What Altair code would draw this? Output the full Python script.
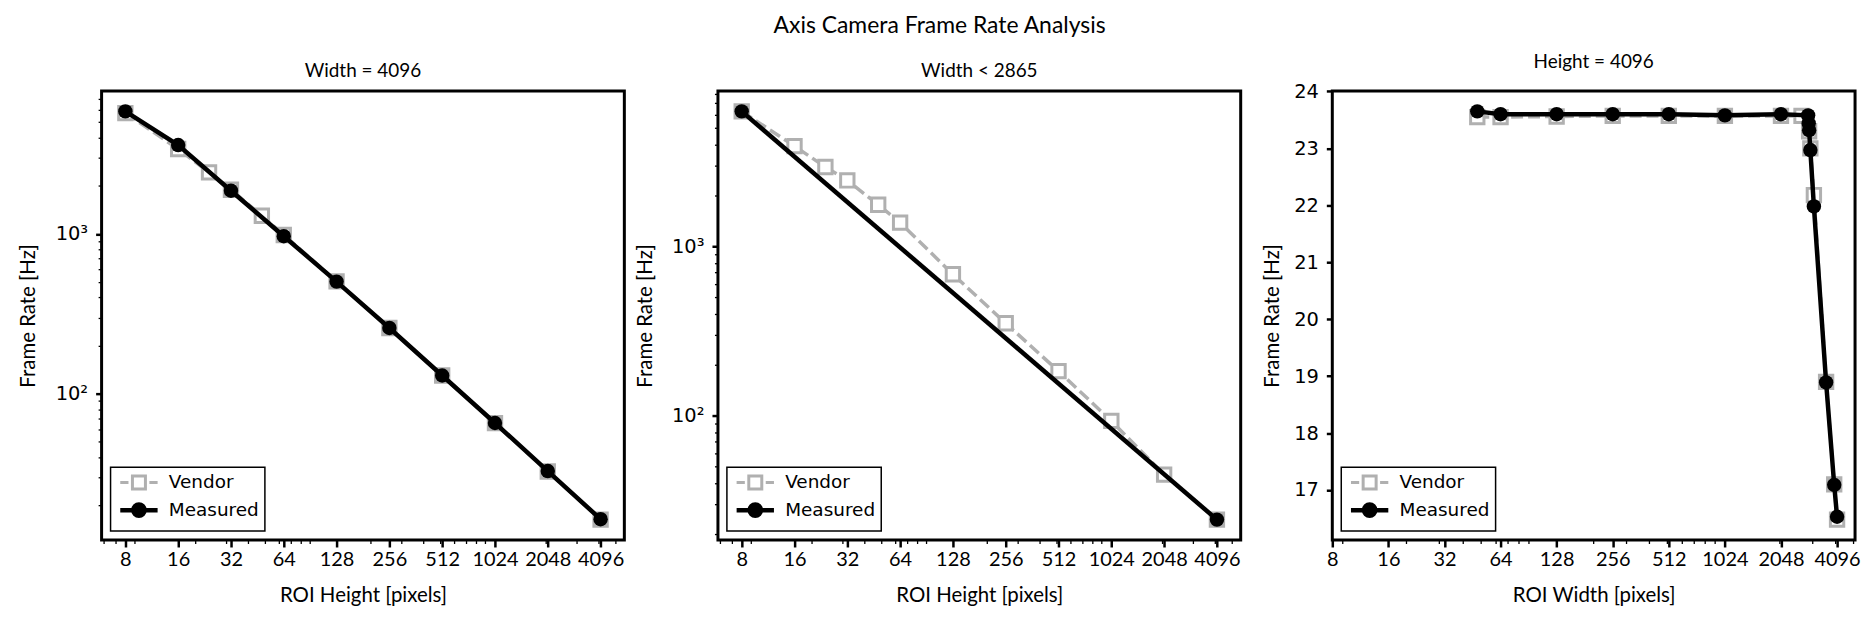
import math
import altair as alt
import pandas as pd

GREY = "#b0b0b0"

# ---------------- data ----------------
# Panel 1: Width = 4096, x = ROI height
p1_meas_x = [8, 16, 32, 64, 128, 256, 512, 1024, 2048, 4096]
p1_meas_y = [5850, 3600, 1865, 968, 503, 258, 130, 65.6, 32.8, 16.4]
p1_vend_x = [8, 16, 24, 32, 48, 64, 128, 256, 512, 1024, 2048, 4096]
p1_vend_y = [5700, 3400, 2430, 1890, 1300, 985, 505, 258, 130, 65.5, 32.6, 16.3]

# Panel 2: Width < 2865, x = ROI height
p2_meas_x = [8, 4096]
p2_meas_y = [6270, 24.3]
p2_vend_x = [8, 16, 24, 32, 48, 64, 128, 256, 512, 1024, 2048, 4096]
p2_vend_y = [6270, 3910, 2940, 2450, 1760, 1380, 684, 351, 183, 93, 44.8, 24.3]

# Panel 3: Height = 4096, x = ROI width
p3_meas_x = [48, 64, 128, 256, 512, 1024, 2048, 2865, 2885, 2900, 2944, 3076, 3577, 3954, 4096]
p3_meas_y = [23.65, 23.60, 23.60, 23.60, 23.60, 23.58, 23.60, 23.58, 23.44, 23.32, 22.97, 21.98, 18.89, 17.09, 16.53]
p3_vend_x = [48, 64, 128, 256, 512, 1024, 2048, 2640, 2900, 2944, 3076, 3577, 3954, 4096]
p3_vend_y = [23.55, 23.55, 23.56, 23.57, 23.57, 23.57, 23.57, 23.57, 23.30, 23.00, 22.18, 18.90, 17.10, 16.48]

titles = ["Width = 4096", "Width < 2865", "Height = 4096"]
x_titles = ["ROI Height [pixels]", "ROI Height [pixels]", "ROI Width [pixels]"]
series_names = ["Vendor", "Measured"]

X_MAJOR = [8, 16, 32, 64, 128, 256, 512, 1024, 2048, 4096]
X_MINOR = [6, 7, 9, 20, 30, 40, 50, 60, 70, 80, 90, 200, 300, 400, 500, 600, 700, 800, 900,
           2000, 3000, 4000, 5000]
Y_LOG_MAJOR = [100, 1000]
Y_LOG_MINOR = [20, 30, 40, 50, 60, 70, 80, 90, 200, 300, 400, 500, 600, 700, 800, 900,
               2000, 3000, 4000, 5000, 6000, 7000, 8000, 9000]
Y_LIN_TICKS = [17, 18, 19, 20, 21, 22, 23, 24]


def log_limits(vals, base=10.0, margin=0.05):
    lo, hi = math.log(min(vals), base), math.log(max(vals), base)
    d = (hi - lo) * margin
    return [base ** (lo - d), base ** (hi + d)]


def lin_limits(vals, margin=0.05):
    lo, hi = min(vals), max(vals)
    d = (hi - lo) * margin
    return [lo - d, hi + d]


VEND_PATH = "M-2.5,0H-1.4M1.4,0H2.5M-0.87,-0.87H0.87V0.87H-0.87Z"
MEAS_PATH = "M-2.5,0H2.5M0.75,0A0.75,0.75,0,1,1,-0.75,0A0.75,0.75,0,1,1,0.75,0Z"

W, H = 525, 451


def panel(title, mx, my, vx, vy, x_title, x_dom, y_dom, y_log, y_extent, y_tpad):
    dm = pd.DataFrame({"x": mx, "y": my, "series": "Measured"})
    dv = pd.DataFrame({"x": vx, "y": vy, "series": "Vendor"})

    xs = alt.Scale(type="log", domain=x_dom, nice=False)
    if y_log:
        ys = alt.Scale(type="log", domain=y_dom, nice=False)
        y_axis = alt.Axis(values=Y_LOG_MAJOR,
                          labelExpr="datum.value == 100 ? '10²' : datum.value == 1000 ? '10³' : ''",
                          title="Frame Rate [Hz]")
        y_minor_axis = alt.Axis(values=Y_LOG_MINOR, orient="left", labels=False, title=None,
                                tickSize=3.5, tickWidth=1.3, domain=False, grid=False)
    else:
        ys = alt.Scale(type="linear", domain=y_dom, nice=False, zero=False)
        y_axis = alt.Axis(values=Y_LIN_TICKS, format="d", title="Frame Rate [Hz]")
        y_minor_axis = None

    x_axis = alt.Axis(values=X_MAJOR, format="d", title=x_title, orient="bottom",
                      tickSize=7, tickWidth=2.5, labelFont="Lato", labelFontSize=20,
                      labelPadding=3, labelOverlap=False, labelFlush=False,
                      titleFont="Lato", titleFontSize=20.5, titleFontWeight="normal",
                      titlePadding=15.5)
    y_axis = alt.Axis(**{**y_axis.to_dict(),
                         "orient": "left", "tickSize": 6, "tickWidth": 2.5,
                         "labelFont": "DejaVu Sans", "labelFontSize": 19.5,
                         "labelPadding": 8, "minExtent": y_extent, "maxExtent": y_extent,
                         "titleFont": "Lato", "titleFontSize": 20.5,
                         "titleFontWeight": "normal", "titlePadding": y_tpad})

    X = alt.X("x:Q", scale=xs, axis=x_axis)
    Y = alt.Y("y:Q", scale=ys, axis=y_axis)

    vend_line = alt.Chart(dv).mark_line(stroke=GREY, strokeWidth=3.5, strokeDash=[12, 5]).encode(x=X, y=Y)
    vend_pts = alt.Chart(dv).mark_point(shape="square", size=180, filled=True, fill="white",
                                        stroke=GREY, strokeWidth=3, opacity=1).encode(x=X, y=Y)
    meas_line = alt.Chart(dm).mark_line(stroke="black", strokeWidth=4.5).encode(x=X, y=Y)
    meas_pts = alt.Chart(dm).mark_circle(size=210, fill="black", opacity=1).encode(x=X, y=Y)

    leg = alt.Legend(title=None, orient="bottom-left", offset=9, padding=6,
                     symbolOffset=12.5, labelOffset=20, rowPadding=0,
                     labelFont="DejaVu Sans", labelFontSize=18.5, labelColor="black",
                     symbolSize=225, strokeColor="black", fillColor="white",
                     cornerRadius=0)
    legend_layer = alt.Chart(dm).mark_point(filled=True, opacity=1).encode(
        shape=alt.Shape("series:N", scale=alt.Scale(domain=series_names, range=[VEND_PATH, MEAS_PATH]), legend=leg),
        fill=alt.Fill("series:N", scale=alt.Scale(domain=series_names, range=["white", "black"]), legend=leg),
        stroke=alt.Stroke("series:N", scale=alt.Scale(domain=series_names, range=[GREY, "black"]), legend=leg),
        strokeWidth=alt.StrokeWidth("series:N", scale=alt.Scale(domain=series_names, range=[3, 4.5]), legend=leg),
    ).transform_filter("false")

    main = alt.layer(vend_line, vend_pts, meas_line, meas_pts, legend_layer)

    x_minor_axis = alt.Axis(values=[v for v in X_MINOR if x_dom[0] <= v <= x_dom[1]],
                            orient="bottom", labels=False, title=None,
                            tickSize=3.5, tickWidth=1.3, domain=False, grid=False)
    minor = alt.Chart(dm).mark_point(opacity=0).encode(
        x=alt.X("x:Q", scale=xs, axis=x_minor_axis),
        y=alt.Y("y:Q", scale=ys, axis=y_minor_axis),
    )

    return alt.layer(main, minor).resolve_axis(x="independent", y="independent").properties(
        width=W, height=H,
        title=alt.TitleParams(title, font="Lato", fontSize=19, fontWeight="normal", offset=10, anchor="middle"),
    )


x12 = log_limits(p1_meas_x + p1_vend_x, base=2)
p1 = panel(titles[0], p1_meas_x, p1_meas_y, p1_vend_x, p1_vend_y, x_titles[0],
           x12, log_limits(p1_meas_y + p1_vend_y), True, 52, 11)
p2 = panel(titles[1], p2_meas_x, p2_meas_y, p2_vend_x, p2_vend_y, x_titles[1],
           log_limits(p2_meas_x + p2_vend_x, base=2), log_limits(p2_meas_y + p2_vend_y), True, 52, 11)
x3 = [8, log_limits(p3_meas_x + p3_vend_x, base=2)[1]]
p3 = panel(titles[2], p3_meas_x, p3_meas_y, p3_vend_x, p3_vend_y, x_titles[2],
           x3, lin_limits(p3_meas_y + p3_vend_y), False, 40, 10)

indep = dict(shape="independent", fill="independent", stroke="independent", strokeWidth="independent")
row12 = alt.hconcat(p1, p2, spacing=7).resolve_scale(**indep).resolve_legend(**indep)
chart = alt.hconcat(row12, p3, spacing=18).resolve_scale(**indep).resolve_legend(**indep).properties(
    title=alt.TitleParams("Axis Camera Frame Rate Analysis", font="Lato", fontSize=23,
                          fontWeight="normal", anchor="middle", offset=13),
    padding={"left": 9, "top": 5, "right": 5, "bottom": 5},
).configure_view(
    stroke="black", strokeWidth=3
).configure_axis(
    domain=False, grid=False, tickColor="black", labelColor="black", titleColor="black"
).configure_legend(
    strokeWidth=1.5
).configure_title(
    color="black"
)

chart.save("out.html", embed_options={"renderer": "svg", "actions": False})
